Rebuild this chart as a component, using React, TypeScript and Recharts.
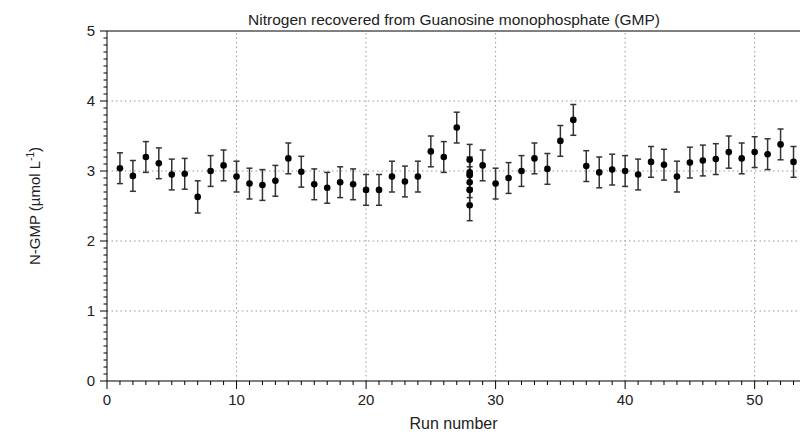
import {
  ScatterChart,
  Scatter,
  XAxis,
  YAxis,
  ErrorBar,
  ReferenceLine,
} from "recharts";

const runNumbers = [
  1, 2, 3, 4, 5, 6, 7, 8, 9, 10, 11, 12, 13, 14, 15, 16, 17, 18, 19, 20, 21, 22, 23, 24, 25, 26, 27,
  28, 28, 28, 28, 28, 28,
  29, 30, 31, 32, 33, 34, 35, 36, 37, 38, 39, 40, 41, 42, 43, 44, 45, 46, 47, 48, 49, 50, 51, 52, 53,
];

const nGmp = [
  3.04, 2.93, 3.2, 3.11, 2.95, 2.96, 2.63, 3.0, 3.08, 2.92, 2.82, 2.8, 2.86, 3.18, 2.99, 2.81, 2.76,
  2.84, 2.81, 2.73, 2.73, 2.92, 2.85, 2.92, 3.28, 3.2, 3.62,
  3.16, 2.98, 2.94, 2.84, 2.73, 2.51,
  3.08, 2.82, 2.9, 3.0, 3.18, 3.03, 3.43, 3.73, 3.07, 2.98, 3.02, 3.0, 2.95, 3.13, 3.09, 2.92, 3.12,
  3.15, 3.17, 3.27, 3.18, 3.27, 3.24, 3.38, 3.13,
];

const nGmpErr = [
  0.22, 0.22, 0.22, 0.22, 0.22, 0.22, 0.23, 0.22, 0.22, 0.22, 0.22, 0.22, 0.22, 0.22, 0.22, 0.22, 0.22,
  0.22, 0.22, 0.22, 0.22, 0.22, 0.22, 0.22, 0.22, 0.22, 0.22,
  0.22, 0.22, 0.22, 0.22, 0.22, 0.22,
  0.22, 0.22, 0.22, 0.22, 0.22, 0.22, 0.22, 0.22, 0.22, 0.22, 0.22, 0.22, 0.22, 0.22, 0.22, 0.22, 0.22,
  0.22, 0.22, 0.23, 0.22, 0.22, 0.22, 0.22, 0.22,
];

const xTicks = Array.from({ length: 54 }, (_, i) => i);
const yTicks = Array.from({ length: 51 }, (_, i) => i / 10);
const xGrid = [10, 20, 30, 40, 50];
const yGrid = [1, 2, 3, 4];

const data = runNumbers.map((run, i) => ({ run, value: nGmp[i], err: nGmpErr[i] }));

const FONT = "'Liberation Sans', Arial, Helvetica, sans-serif";

const XTick = (props: any) => {
  const { x, y, payload } = props;
  const v = payload.value;
  const major = v % 10 === 0;
  return (
    <g>
      <line x1={x} x2={x} y1={y} y2={y + (major ? 8 : 4)} stroke="#000" />
      {major && (
        <text x={x} y={y + 24} textAnchor="middle" fontSize={15} fontFamily={FONT} fill="#222">
          {v}
        </text>
      )}
    </g>
  );
};

const YTick = (props: any) => {
  const { x, y, payload } = props;
  const v = payload.value;
  const major = Number.isInteger(v);
  return (
    <g>
      <line x1={x - (major ? 7 : 3.5)} x2={x} y1={y} y2={y} stroke="#000" />
      {major && (
        <text x={x - 12} y={y} dy="0.36em" textAnchor="end" fontSize={15} fontFamily={FONT} fill="#222">
          {v}
        </text>
      )}
    </g>
  );
};

const YLabel = () => (
  <text
    x={35}
    y={206}
    transform="rotate(-90, 35, 206)"
    textAnchor="middle"
    dy="0.35em"
    fontSize={15}
    fontFamily={FONT}
    fill="#222"
  >
    N-GMP (µmol L
    <tspan dy="-6" fontSize={10}>-1</tspan>
    <tspan dy="6">)</tspan>
  </text>
);

const Dot = (props: any) => <circle cx={props.cx} cy={props.cy} r={3.3} fill="#000" />;

export default function App() {
  return (
    <div style={{ position: "absolute", left: 0, top: 0, width: 800, height: 434, background: "#fff" }}>
      <div
        style={{
          position: "absolute",
          left: 154,
          width: 600,
          top: 12,
          textAlign: "center",
          fontFamily: FONT,
          fontSize: 15.5,
          lineHeight: "16px",
          color: "#222",
        }}
      >
        Nitrogen recovered from Guanosine monophosphate (GMP)
      </div>
      <ScatterChart width={800} height={434} margin={{ top: 31, right: 0, bottom: 0, left: 0 }}>
        <XAxis
          type="number"
          dataKey="run"
          domain={[0, 53.5]}
          ticks={xTicks}
          interval={0}
          allowDataOverflow
          tickSize={0}
          tickMargin={0}
          tickLine={false}
          tick={<XTick />}
          height={53}
          axisLine={{ stroke: "#000" }}
          label={{
            value: "Run number",
            position: "insideBottom",
            offset: 5,
            fontSize: 16,
            fontFamily: FONT,
            fill: "#222",
          }}
        />
        <YAxis
          type="number"
          dataKey="value"
          domain={[0, 5]}
          ticks={yTicks}
          interval={0}
          allowDataOverflow
          tickSize={0}
          tickMargin={0}
          tickLine={false}
          tick={<YTick />}
          width={107}
          axisLine={{ stroke: "#000" }}
          label={<YLabel />}
        />
        {yGrid.map((v) => (
          <ReferenceLine key={"h" + v} y={v} stroke="#999" strokeDasharray="1.5 3" />
        ))}
        {xGrid.map((v) => (
          <ReferenceLine key={"v" + v} x={v} stroke="#999" strokeDasharray="1.5 3" />
        ))}
        <ReferenceLine y={5} stroke="#000" />
        <Scatter data={data} shape={<Dot />} isAnimationActive={false}>
          <ErrorBar dataKey="err" direction="y" width={3} stroke="#333" strokeWidth={1.5} />
        </Scatter>
      </ScatterChart>
    </div>
  );
}
